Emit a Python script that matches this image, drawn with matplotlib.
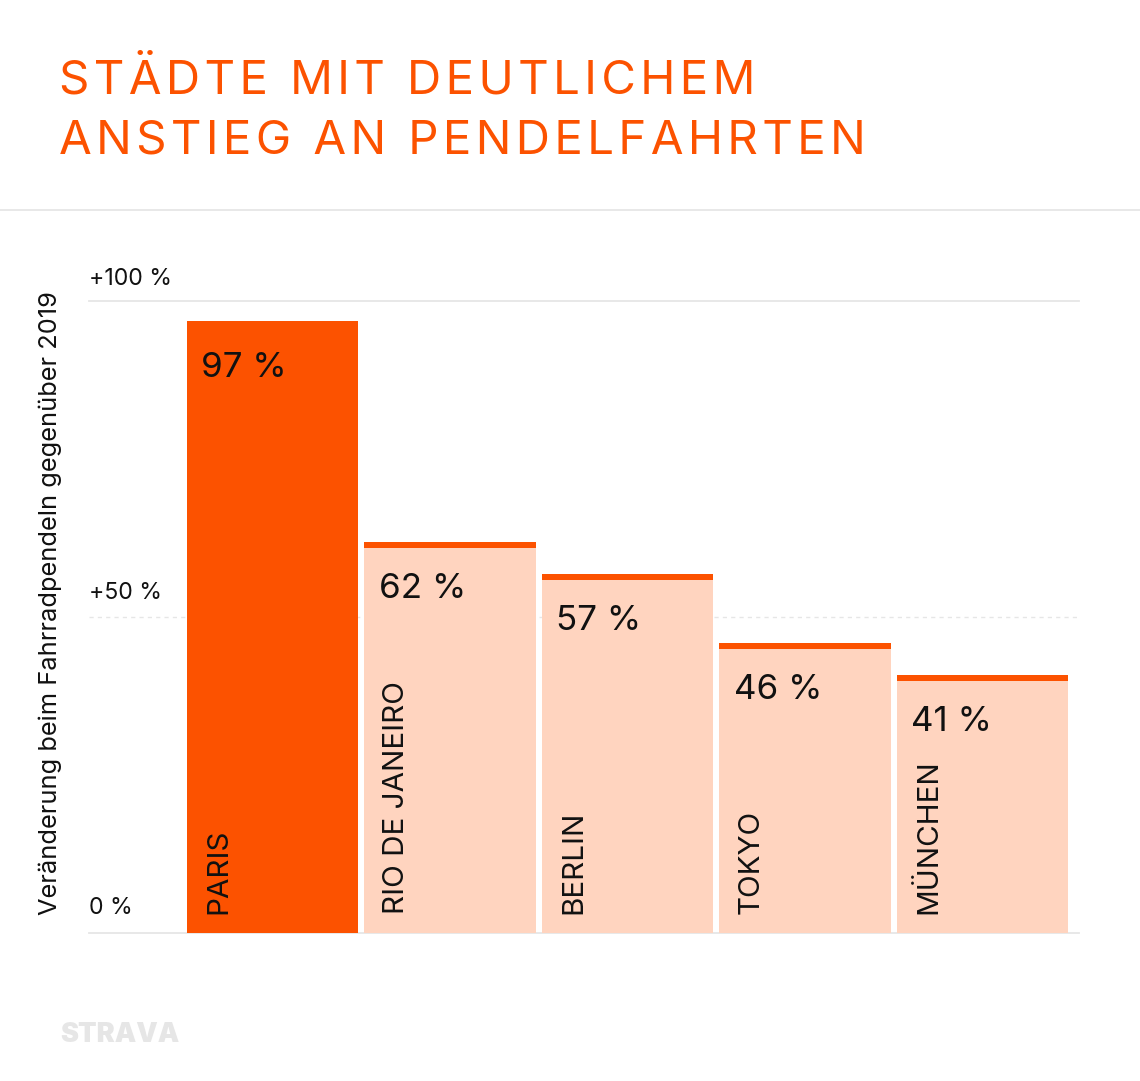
import matplotlib
matplotlib.use('Agg')
import matplotlib.pyplot as plt
from matplotlib.lines import Line2D

# Datos
ciudades = ['PARIS', 'RIO DE JANEIRO', 'BERLIN', 'TOKYO', 'MÜNCHEN']
valores = [96.8, 61.8, 56.7, 45.8, 40.7]
valores_txt = ['97 %', '62 %', '57 %', '46 %', '41 %']
ticks = [0, 50, 100]
ticks_txt = ['0 %', '+50 %', '+100 %']
titulo = ['STÄDTE MIT DEUTLICHEM', 'ANSTIEG AN PENDELFAHRTEN']
eje_txt = 'Veränderung beim Fahrradpendeln gegenüber 2019'

NARANJA = '#FC5200'
PALIDO = '#FFD4BF'
GRIS = '#E6E6E6'
W, H = 1140, 1081

plt.rcParams['font.family'] = ['Inter', 'DejaVu Sans']

fig = plt.figure(figsize=(W / 100, H / 100), dpi=100)
ax = fig.add_axes([89 / W, (H - 932.5) / H, 990 / W, 631.5 / H])
ax.set_xlim(-1.034, 4.544)
ax.set_ylim(0, 100)
ax.axis('off')

# Lineas de referencia
ax.axhline(100, color=GRIS, lw=1.3, zorder=1, clip_on=False)
ax.axhline(50, color=GRIS, lw=1, ls=(0, (3, 3)), zorder=1)
ax.axhline(0, color=GRIS, lw=1.3, zorder=1, clip_on=False)

for t, txt, dy in zip(ticks, ticks_txt, [13, 13, 11.5]):
    ax.annotate(txt, (0, t), xycoords=('axes fraction', 'data'), xytext=(0, dy),
                textcoords='offset points', fontsize=16.6, ha='left', va='baseline',
                color='#111111')

# Barras
ancho = 171.5 / 177.5
x = list(range(len(ciudades)))
colores = [NARANJA] + [PALIDO] * (len(ciudades) - 1)
ax.bar(x, valores, width=ancho, color=colores, zorder=2)
ax.bar(x[1:], [0.9] * 4, bottom=[v - 0.9 for v in valores[1:]], width=ancho, color=NARANJA, zorder=3)

for i in x:
    ax.annotate(valores_txt[i], (i - ancho / 2, valores[i]), xytext=(10.5, -40),
                textcoords='offset points', fontsize=25.2, ha='left', va='baseline',
                color='#111111', zorder=4)
    ax.annotate(ciudades[i], (i - ancho / 2, 0), xytext=(28.5, 13),
                textcoords='offset points', fontsize=21.3, rotation=90, rotation_mode='anchor',
                ha='left', va='baseline', color='#111111', zorder=4)

# Titulo con espaciado
espacio = '\u200a'
for linea, y in zip(titulo, [93, 154]):
    fig.text(59 / W, 1 - y / H, espacio.join(linea), fontsize=34.2, color=NARANJA,
             ha='left', va='baseline')

fig.add_artist(Line2D([0, 1], [1 - 210 / H] * 2, color=GRIS, lw=1.3))

fig.text(57 / W, 1 - 915 / H, eje_txt, fontsize=18.3, rotation=90, rotation_mode='anchor',
         ha='left', va='baseline', color='#111111')

fig.text(60 / W, 1 - 1042 / H, 'STRAVA', fontsize=19.5, fontweight='black', color=GRIS,
         ha='left', va='baseline')

fig.savefig('out.png', dpi=100, facecolor='white')
